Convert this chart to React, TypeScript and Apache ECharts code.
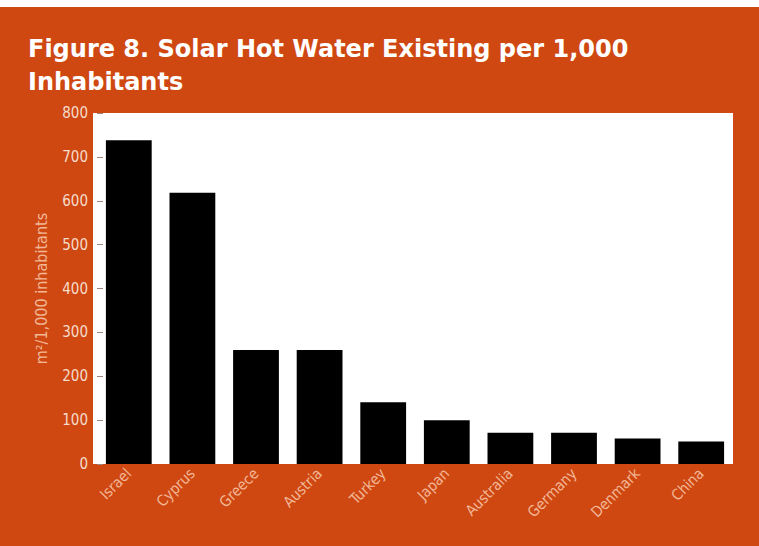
import React, { useEffect, useRef } from "react";
import * as echarts from "echarts";

const categories = ["Israel", "Cyprus", "Greece", "Austria", "Turkey", "Japan", "Australia", "Germany", "Denmark", "China"];
const values = [738, 618, 260, 260, 141, 100, 71, 71, 58, 51];
const yTicks = [0, 100, 200, 300, 400, 500, 600, 700, 800];

const condensed = "'DejaVu Sans Condensed', 'Liberation Sans Narrow', Roboto, sans-serif";

export default function App() {
  const ref = useRef<HTMLDivElement>(null);
  useEffect(() => {
    document.body.style.margin = "0";
    const chart = echarts.init(ref.current!, null, { renderer: "svg" });
    chart.setOption({
      animation: false,
      backgroundColor: "#ffffff",
      graphic: [
        { type: "rect", z: -10, silent: true, shape: { x: 0, y: 7, width: 759, height: 539 }, style: { fill: "#cf4812" } },
        { type: "rect", z: -9, silent: true, shape: { x: 93, y: 113, width: 640, height: 351 }, style: { fill: "#ffffff" } },
        {
          type: "text",
          left: 28,
          top: 32,
          style: {
            text: "Figure 8. Solar Hot Water Existing per 1,000\nInhabitants",
            fill: "#ffffff",
            font: "bold 24px 'DejaVu Sans', sans-serif",
            lineHeight: 33,
          },
        },
      ],
      grid: { left: 97, top: 113, width: 636, height: 351, show: false },
      xAxis: {
        type: "category",
        data: categories,
        axisLine: { show: false },
        axisTick: { show: false },
        axisLabel: { rotate: 45, color: "#f2b796", fontSize: 15, fontFamily: condensed, margin: 7 },
      },
      yAxis: {
        type: "value",
        min: 0,
        max: 800,
        interval: 100,
        name: "m²/1,000 inhabitants",
        nameLocation: "middle",
        nameGap: 48,
        nameTextStyle: { color: "#f2b796", fontSize: 16, fontFamily: condensed },
        axisLine: { show: false },
        axisTick: { show: true, inside: true, length: 6, lineStyle: { color: "#a08478" } },
        splitLine: { show: false },
        axisLabel: {
          color: "#f5dccb",
          fontSize: 15,
          fontFamily: condensed,
          margin: 9,
          formatter: (v: number) => (yTicks.includes(v) ? String(v) : ""),
        },
      },
      series: [
        {
          type: "bar",
          data: values,
          barWidth: "72%",
          itemStyle: { color: "#000000" },
        },
      ],
    });
    return () => chart.dispose();
  }, []);
  return <div ref={ref} style={{ width: 759, height: 546 }} />;
}
